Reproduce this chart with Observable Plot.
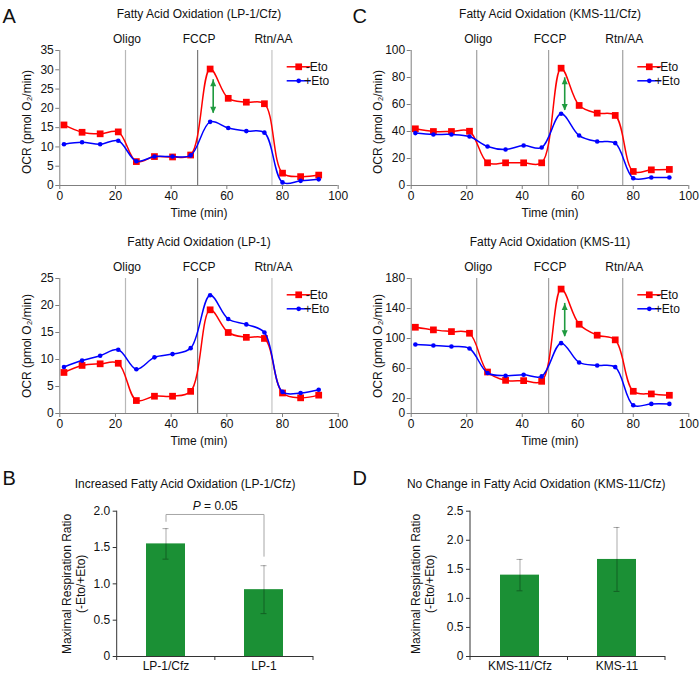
<!DOCTYPE html>
<html><head><meta charset="utf-8">
<script src="https://cdn.jsdelivr.net/npm/d3@7"></script>
<script src="https://cdn.jsdelivr.net/npm/@observablehq/plot@0.6"></script>
<style>
body{margin:0;background:#fff;}
#fig{position:relative;width:700px;height:675px;background:#fff;overflow:hidden;font-family:"Liberation Sans",Arial,sans-serif;font-size:12px;}
.panel{position:absolute;}
</style></head><body><div id="fig"></div>
<script>
// ---------- data ----------
const times = [1.5, 8, 14.5, 21, 27.5, 34, 40.5, 47, 54, 60.5, 67, 73.5, 80, 86.5, 93];
const xTicks = [0, 20, 40, 60, 80, 100];
const eventNames = ["Oligo", "FCCP", "Rtn/AA"];
const eventTimes = [23.6, 49.5, 76.2];
const seriesLabels = ["-Eto", "+Eto"];

const lp1CfzMinusEto = [15.7, 13.8, 13.4, 13.9, 6.2, 7.5, 7.4, 7.9, 30.2, 22.6, 21.6, 21.2, 3.2, 2.3, 2.7];
const lp1CfzPlusEto  = [10.7, 11.2, 10.7, 11.6, 6.3, 7.5, 7.5, 7.8, 16.5, 14.9, 14.1, 13.7, 0.8, 1.2, 1.6];
const lp1CfzYTicks = [0, 5, 10, 15, 20, 25, 30, 35];
const lp1CfzArrow = [{t: 55.1, lo: 18.7, hi: 27.4}];

const kmsCfzMinusEto = [42, 40, 40, 40.2, 16.8, 16.8, 16.8, 16.8, 86.9, 59.3, 53.6, 51.9, 10.4, 11.6, 11.9];
const kmsCfzPlusEto  = [38.8, 37.8, 37.8, 36.3, 28.9, 26.7, 29.6, 28.1, 53.1, 37, 32.6, 31.4, 5.4, 5.9, 5.9];
const kmsCfzYTicks = [0, 20, 40, 60, 80, 100];
const kmsCfzArrow = [{t: 55.3, lo: 55.6, hi: 79.8}];

const lp1MinusEto = [7.6, 8.9, 9.2, 9.3, 2.4, 3.2, 3.2, 4.1, 19.2, 15, 14.1, 13.9, 3.8, 2.9, 3.4];
const lp1PlusEto  = [8.6, 9.8, 10.7, 11.8, 8.2, 10.4, 11, 12.1, 21.9, 17.5, 16.5, 15, 4, 3.8, 4.4];
const lp1YTicks = [0, 5, 10, 15, 20, 25];

const kmsMinusEto = [115, 111.5, 109.2, 107, 55.3, 44.2, 43.8, 42.9, 165.9, 119, 104.4, 98.2, 29.6, 26.1, 24.3];
const kmsPlusEto  = [92, 90.7, 89.3, 86.7, 54, 50.4, 51.7, 49.5, 93.8, 68.1, 64.1, 61.9, 11, 12.8, 12.8];
const kmsYTicks = [0, 20, 60, 100, 140, 180];
const kmsArrow = [{t: 55.3, lo: 102.5, hi: 146.8}];

const barCatsB = ["LP-1/Cfz", "LP-1"];
const barMeansB = [1.55, 0.92];
const barErrsB = [0.21, 0.33];
const barYTicksB = [0, 0.5, 1.0, 1.5, 2.0];
const bracketB = [{cat: "LP-1/Cfz", v: 1.86}, {cat: "LP-1/Cfz", v: 1.955}, {cat: "LP-1", v: 1.955}, {cat: "LP-1", v: 1.38}];

const barCatsD = ["KMS-11/Cfz", "KMS-11"];
const barMeansD = [1.40, 1.67];
const barErrsD = [0.27, 0.55];
const barYTicksD = [0, 0.5, 1.0, 1.5, 2.0, 2.5];

// ---------- style ----------
const FONT = '"Liberation Sans", Arial, Helvetica, sans-serif';
const STYLE = `font-family: ${FONT}; font-size: 12px; background: transparent; color: #111; overflow: visible;`;
const RED = "#ff0000", BLUE = "#0000ff", GREEN_ARROW = "#1f9a3f", GREEN_BAR = "#1b9035";
const TXT = {fontSize: 12, fill: "#111", lineAnchor: "middle", fontFamily: FONT};
const headUp = {draw(ctx){ ctx.moveTo(0,0); ctx.lineTo(3,6.5); ctx.lineTo(-3,6.5); ctx.closePath(); }};
const headDown = {draw(ctx){ ctx.moveTo(0,0); ctx.lineTo(3,-6.5); ctx.lineTo(-3,-6.5); ctx.closePath(); }};

function dimsOf(args){
  return args.find(a => a && typeof a === "object" && !Array.isArray(a) && ("marginTop" in a) && ("width" in a));
}
function legendMark(items){
  return function(...args){
    const d = dimsOf(args);
    const fr = d.width - d.marginRight, ft = d.marginTop;
    const g = d3.create("svg:g");
    items.forEach((it, i) => {
      const y = ft + 16.8 + i * 14;
      g.append("line").attr("x1", fr - 51).attr("x2", fr - 27).attr("y1", y).attr("y2", y)
        .attr("stroke", it.color).attr("stroke-width", 1.5);
      g.append("path").attr("d", d3.symbol(it.symbol, it.size)())
        .attr("transform", `translate(${fr - 39},${y})`).attr("fill", it.color);
      g.append("text").attr("x", fr - 21).attr("y", y).attr("dy", "0.35em")
        .attr("fill", "#111").attr("font-size", 12).attr("font-family", FONT).text(it.label);
    });
    return g.node();
  };
}
function catAxisLines(){
  return function(...args){
    const d = dimsOf(args);
    const x0 = d.marginLeft, x1 = d.width - d.marginRight;
    const yt = d.marginTop, yb = d.height - d.marginBottom;
    const g = d3.create("svg:g").attr("stroke", "#333").attr("stroke-width", 1);
    g.append("line").attr("x1", x0).attr("x2", x0).attr("y1", yt).attr("y2", yb);
    [x0, (x0 + x1) / 2, x1].forEach(x => g.append("line").attr("x1", x).attr("x2", x).attr("y1", yb).attr("y2", yb + 4));
    return g.node();
  };
}

function place(node, left, top){
  const div = document.createElement("div");
  div.className = "panel";
  div.style.left = left + "px";
  div.style.top = top + "px";
  div.appendChild(node);
  document.getElementById("fig").appendChild(div);
}

function ocrChart(cfg){
  const red = times.map((t, i) => ({t, v: cfg.minus[i]}));
  const blue = times.map((t, i) => ({t, v: cfg.plus[i]}));
  const events = eventNames.map((name, i) => ({name, t: eventTimes[i], color: cfg.eventColors[i]}));
  const marks = [
    Plot.ruleX(events, {x: "t", stroke: "color", strokeWidth: 1.2}),
    Plot.text(events, {x: "t", text: "name", frameAnchor: "top", dy: -11, dx: 1.5, ...TXT}),
    Plot.ruleY([0], {stroke: "#7f7f7f"}),
    Plot.ruleX([0], {stroke: "#7f7f7f"}),
    Plot.axisX({ticks: xTicks, tickSize: 4, tickPadding: 2, label: null, stroke: "#7f7f7f", fill: "#111", fontSize: 12, fontFamily: FONT}),
    Plot.axisY({ticks: cfg.yTicks, tickSize: 4, tickPadding: 2, label: null, stroke: "#7f7f7f", fill: "#111", fontSize: 12, fontFamily: FONT}),
    Plot.line(red, {x: "t", y: "v", stroke: RED, strokeWidth: 1.5, curve: "catmull-rom"}),
    Plot.dot(red, {x: "t", y: "v", symbol: "square", r: 3.8, fill: RED}),
    Plot.line(blue, {x: "t", y: "v", stroke: BLUE, strokeWidth: 1.5, curve: "catmull-rom"}),
    Plot.dot(blue, {x: "t", y: "v", r: 2.3, fill: BLUE}),
    Plot.text([cfg.title], {text: d => d, frameAnchor: "top", dy: -36, ...TXT}),
    Plot.text(["Time (min)"], {text: d => d, frameAnchor: "bottom", dy: 28, ...TXT}),
    Plot.text(["OCR (pmol O\u2082/min)"], {text: d => d, frameAnchor: "left", textAnchor: "middle", rotate: -90, dx: -33, dy: cfg.ylabDy, ...TXT}),
    legendMark([
      {label: seriesLabels[0], color: RED, symbol: d3.symbolSquare, size: 45},
      {label: seriesLabels[1], color: BLUE, symbol: d3.symbolCircle, size: 17}
    ])
  ];
  if (cfg.letter) marks.push(Plot.text([cfg.letter], {text: d => d, frameAnchor: "top-left", textAnchor: "start", dx: 2 - cfg.ml, dy: -34.2, ...TXT, fontSize: 20}));
  if (cfg.arrow) {
    marks.push(
      Plot.ruleX(cfg.arrow, {x: "t", y1: "lo", y2: "hi", stroke: GREEN_ARROW, strokeWidth: 1.6}),
      Plot.dot(cfg.arrow, {x: "t", y: "hi", symbol: headUp, fill: GREEN_ARROW, stroke: "none"}),
      Plot.dot(cfg.arrow, {x: "t", y: "lo", symbol: headDown, fill: GREEN_ARROW, stroke: "none"})
    );
  }
  return Plot.plot({
    width: 350, height: 220,
    marginTop: 50, marginBottom: 35, marginLeft: cfg.ml, marginRight: cfg.mr,
    style: STYLE,
    x: {domain: [0, 100]},
    y: {domain: cfg.yDomain},
    color: {type: "identity"},
    marks
  });
}

function barChart(cfg){
  const rows = cfg.cats.map((cat, i) => ({cat, mean: cfg.means[i], lo: cfg.means[i] - cfg.errs[i], hi: cfg.means[i] + cfg.errs[i]}));
  const err = {stroke: "#000", strokeOpacity: 0.33, strokeWidth: 1};
  const marks = [
    Plot.barY(rows, {x: "cat", y: "mean", fill: GREEN_BAR}),
    Plot.ruleX(rows, {x: "cat", y1: "lo", y2: "hi", ...err}),
    Plot.tickY(rows, {x: "cat", y: "lo", insetLeft: 16.5, insetRight: 16.5, ...err}),
    Plot.tickY(rows, {x: "cat", y: "hi", insetLeft: 16.5, insetRight: 16.5, ...err}),
    Plot.ruleY([0], {stroke: "#333"}),
    catAxisLines(),
    Plot.axisY({ticks: cfg.yTicks, tickSize: 4, tickPadding: 3, tickFormat: d => d === 0 ? "0" : d.toFixed(1), label: null, stroke: "#333", fill: "#111", fontSize: 12, fontFamily: FONT}),
    Plot.axisX({tickSize: 0, tickPadding: 5, label: null, fill: "#111", fontSize: 12, fontFamily: FONT}),
    Plot.text([cfg.title], {text: d => d, frameAnchor: "top", dx: cfg.titleDx, dy: -27.4, ...TXT}),
    Plot.text(["Maximal Respiration Ratio\n(-Eto/+Eto)"], {text: d => d, frameAnchor: "left", textAnchor: "middle", rotate: -90, dx: cfg.ylabDx, ...TXT, lineHeight: 1.17}),
    Plot.text([cfg.letter], {text: d => d, frameAnchor: "top-left", textAnchor: "start", dx: 2 - cfg.ml, dy: -32.4, ...TXT, fontSize: 20})
  ];
  if (cfg.bracket) {
    marks.push(
      Plot.line(cfg.bracket, {x: "cat", y: "v", stroke: "#a6a6a6", strokeWidth: 1}),
      Plot.text(["P"], {text: d => d, frameAnchor: "top", textAnchor: "start", dx: -22.5, dy: -5.5, ...TXT, fontStyle: "italic"}),
      Plot.text(["= 0.05"], {text: d => d, frameAnchor: "top", textAnchor: "start", dx: -11.3, dy: -5.5, ...TXT})
    );
  }
  return Plot.plot({
    width: 350, height: 215,
    marginTop: 50.7, marginBottom: 19, marginLeft: cfg.ml, marginRight: cfg.mr,
    style: STYLE,
    x: {domain: cfg.cats, paddingInner: 0.6, paddingOuter: 0.3},
    y: {domain: cfg.yDomain},
    marks
  });
}

place(ocrChart({minus: lp1CfzMinusEto, plus: lp1CfzPlusEto, yDomain: [0, 35], yTicks: lp1CfzYTicks,
  title: "Fatty Acid Oxidation (LP-1/Cfz)", letter: "A", arrow: lp1CfzArrow, ml: 59.3, mr: 12.3, ylabDy: 4,
  eventColors: ["#b8b8b8", "#7a7a7a", "#c4c4c4"]}), 0, 0);
place(ocrChart({minus: kmsCfzMinusEto, plus: kmsCfzPlusEto, yDomain: [0, 100], yTicks: kmsCfzYTicks,
  title: "Fatty Acid Oxidation (KMS-11/Cfz)", letter: "C", arrow: kmsCfzArrow, ml: 60.7, mr: 11.7, ylabDy: 4,
  eventColors: ["#a0a0a0", "#a0a0a0", "#a0a0a0"]}), 350, 0);
place(ocrChart({minus: lp1MinusEto, plus: lp1PlusEto, yDomain: [0, 25], yTicks: lp1YTicks,
  title: "Fatty Acid Oxidation (LP-1)", letter: null, arrow: null, ml: 59.3, mr: 12.3, ylabDy: 0,
  eventColors: ["#b8b8b8", "#7a7a7a", "#c4c4c4"]}), 0, 228.3);
place(ocrChart({minus: kmsMinusEto, plus: kmsPlusEto, yDomain: [0, 180], yTicks: kmsYTicks,
  title: "Fatty Acid Oxidation (KMS-11)", letter: null, arrow: kmsArrow, ml: 60.7, mr: 11.7, ylabDy: 0,
  eventColors: ["#a0a0a0", "#a0a0a0", "#a0a0a0"]}), 350, 228.3);
place(barChart({cats: barCatsB, means: barMeansB, errs: barErrsB, yDomain: [0, 2], yTicks: barYTicksB,
  title: "Increased Fatty Acid Oxidation (LP-1/Cfz)", letter: "B", bracket: bracketB,
  ml: 116.7, mr: 37, titleDx: -30.2, ylabDx: -43.7}), 0, 460);
place(barChart({cats: barCatsD, means: barMeansD, errs: barErrsD, yDomain: [0, 2.5], yTicks: barYTicksD,
  title: "No Change in Fatty Acid Oxidation (KMS-11/Cfz)", letter: "D", bracket: null,
  ml: 120, mr: 35, titleDx: -31.8, ylabDx: -48}), 350, 460);
</script></body></html>
